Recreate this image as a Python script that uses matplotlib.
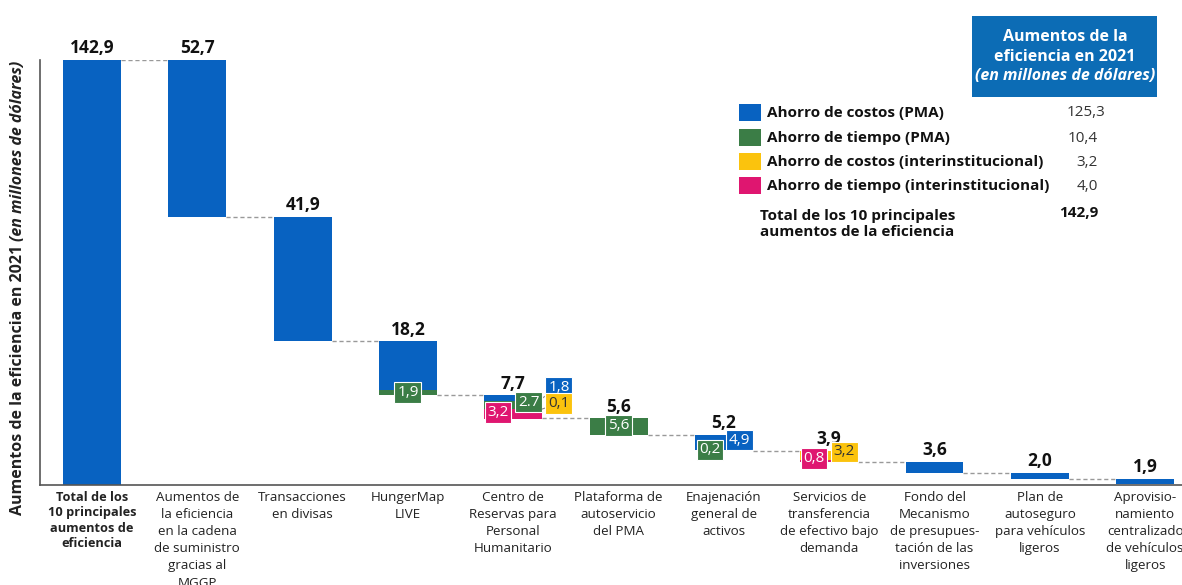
import matplotlib
matplotlib.use("Agg")
import matplotlib.pyplot as plt
from matplotlib.patches import Rectangle
import numpy as np

plt.rcParams['font.family'] = ['Open Sans', 'DejaVu Sans']

# 数据
categories = [
    "Total de los\n10 principales\naumentos de\neficiencia",
    "Aumentos de\nla eficiencia\nen la cadena\nde suministro\ngracias al\nMGGP",
    "Transacciones\nen divisas",
    "HungerMap\nLIVE",
    "Centro de\nReservas para\nPersonal\nHumanitario",
    "Plataforma de\nautoservicio\ndel PMA",
    "Enajenación\ngeneral de\nactivos",
    "Servicios de\ntransferencia\nde efectivo bajo\ndemanda",
    "Fondo del\nMecanismo\nde presupues-\ntación de las\ninversiones",
    "Plan de\nautoseguro\npara vehículos\nligeros",
    "Aprovisio-\nnamiento\ncentralizado\nde vehículos\nligeros",
]
totals = [142.9, 52.7, 41.9, 18.2, 7.7, 5.6, 5.2, 3.9, 3.6, 2.0, 1.9]
blue = [142.9, 52.7, 41.9, 16.3, 1.8, 0, 4.9, 0, 3.6, 2.0, 1.9]
green = [0, 0, 0, 1.9, 2.7, 5.6, 0.2, 0, 0, 0, 0]
yellow = [0, 0, 0, 0, 0.1, 0, 0, 3.2, 0, 0, 0]
pink = [0, 0, 0, 0, 3.2, 0, 0, 0.8, 0, 0, 0]

legend_labels = ["Ahorro de costos (PMA)", "Ahorro de tiempo (PMA)",
                 "Ahorro de costos (interinstitucional)", "Ahorro de tiempo (interinstitucional)"]
legend_values = ["125,3", "10,4", "3,2", "4,0"]
total_label = "Total de los 10 principales\naumentos de la eficiencia"
total_value = "142,9"

C_BLUE = '#0862c1'
C_GREEN = '#3b7d46'
C_YELLOW = '#fbc30d'
C_PINK = '#df1670'
colors = [C_BLUE, C_GREEN, C_YELLOW, C_PINK]
series = [blue, green, yellow, pink]

W, H = 1182, 585
fig = plt.figure(figsize=(W / 100, H / 100), dpi=100)
ax = fig.add_axes([40 / W, (H - 485) / H, 1 - 40 / W, (485 - 60) / H])

def fx(px):
    return px / W

def fy(py):
    return 1 - py / H

x = np.arange(len(totals))
width = 0.55

# 瀑布图顶部位置
tops = [totals[0], totals[0]]
for i in range(2, len(totals)):
    tops.append(tops[i - 1] - totals[i - 1])

# 分段堆叠（从上往下：蓝、绿、黄、粉）
seg = {}
for i in range(len(totals)):
    cur = tops[i]
    for s, (vals, c) in enumerate(zip(series, colors)):
        v = vals[i]
        if v <= 0:
            continue
        ax.bar(x[i], v, width, bottom=cur - v, color=c, linewidth=0)
        seg[(i, s)] = (cur - v / 2, cur)
        cur -= v

# 连接虚线
for i in range(len(totals) - 1):
    level = tops[i + 1]
    ax.plot([x[i] + width / 2, x[i + 1] - width / 2], [level, level],
            ls=(0, (3, 2)), color='#999999', lw=1)

# 顶部数值
for i, v in enumerate(totals):
    ax.annotate(f"{v:.1f}".replace('.', ','), (x[i], tops[i]), xytext=(0, 2),
                textcoords='offset points', ha='center', va='bottom',
                fontsize=12.5, fontweight='bold', color='#111111')

# 分段标签: (柱索引, 序列, 文本, 偏移点, 是否引线)
seg_labels = [
    (3, 1, "1,9", (0, 0), False),
    (4, 0, "1,8", (12, 8), True),
    (4, 1, "2.7", (11, 2), False),
    (4, 2, "0,1", (12, 4), True),
    (4, 3, "3,2", (-11, 1), False),
    (5, 1, "5,6", (0, 1), False),
    (6, 0, "4,9", (11, 1.5), False),
    (6, 1, "0,2", (-10, 0), False),
    (7, 2, "3,2", (11, 2.5), False),
    (7, 3, "0,8", (-11, 2), False),
]
for i, s, txt, off, lead in seg_labels:
    ymid = seg[(i, s)][0]
    tc = '#333333' if s == 2 else 'white'
    box = dict(boxstyle='square,pad=0.18', fc=colors[s], ec='white', lw=0.8)
    if lead:
        ax.annotate(txt, (x[i] + width / 2, ymid), xytext=off, textcoords='offset points',
                    ha='center', va='center', fontsize=11, color=tc, bbox=box,
                    arrowprops=dict(arrowstyle='-', color='#888888', lw=0.8,
                                    shrinkA=0, shrinkB=0), zorder=5)
    else:
        ax.annotate(txt, (x[i], ymid), xytext=off, textcoords='offset points',
                    ha='center', va='center', fontsize=11, color=tc, bbox=box, zorder=5)

ax.set_xlim(-0.494, 10.35)
ax.set_ylim(0, 142.9)
ax.spines['top'].set_visible(False)
ax.spines['right'].set_visible(False)
for sp in ('left', 'bottom'):
    ax.spines[sp].set_color('#555555')
    ax.spines[sp].set_linewidth(1.2)
ax.set_yticks([])
ax.set_xticks(x, categories, fontsize=9.6, color='#222222', linespacing=1.42)
ax.tick_params(axis='x', length=0, pad=4)
lbl0 = ax.get_xticklabels()[0]
lbl0.set_fontweight('bold')
lbl0.set_fontsize(9.2)
lbl0.set_linespacing(1.25)

# Y 轴标题（粗体 + 粗斜体）
renderer = fig.canvas.get_renderer()
t1 = fig.text(fx(18), fy(515), "Aumentos de la eficiencia en 2021 ", rotation=90,
              ha='center', va='bottom', fontsize=11.5, fontweight='bold', color='#222222')
bb = t1.get_window_extent(renderer)
fig.text(fx(18), bb.y1 / fig.bbox.height, "(en millones de dólares)", rotation=90,
         ha='center', va='bottom', fontsize=11.5, fontweight='bold', fontstyle='italic',
         color='#222222')

# 标题框
fig.patches.append(Rectangle((fx(972), fy(97)), fx(1157) - fx(972), fy(16) - fy(97),
                             transform=fig.transFigure, fc='#0c6cb5', ec='none'))
fig.text(fx(1065), fy(37), "Aumentos de la", ha='center', va='center', color='white',
         fontsize=11.5, fontweight='bold')
fig.text(fx(1065), fy(57), "eficiencia en 2021", ha='center', va='center', color='white',
         fontsize=11.5, fontweight='bold')
fig.text(fx(1065), fy(76), "(en millones de dólares)", ha='center', va='center', color='white',
         fontsize=11.5, fontweight='bold', fontstyle='italic')

# 图例
row_y = [113, 138, 162, 186]
val_x = [1105, 1098, 1098, 1098]
for c, lab, val, ry, vx in zip(colors, legend_labels, legend_values, row_y, val_x):
    fig.patches.append(Rectangle((fx(739), fy(ry + 8)), fx(22), fy(0) - fy(17),
                                 transform=fig.transFigure, fc=c, ec='none'))
    fig.text(fx(767), fy(ry), lab, ha='left', va='center', fontsize=11,
             fontweight='bold', color='#111111')
    fig.text(fx(vx), fy(ry), val, ha='right', va='center', fontsize=11, color='#333333')
fig.text(fx(760), fy(224), total_label, ha='left', va='center', fontsize=11,
         fontweight='bold', color='#111111', linespacing=1.2)
fig.text(fx(1098), fy(213), total_value, ha='right', va='center', fontsize=11,
         fontweight='bold', color='#111111')

fig.savefig("out.png", dpi=100)
